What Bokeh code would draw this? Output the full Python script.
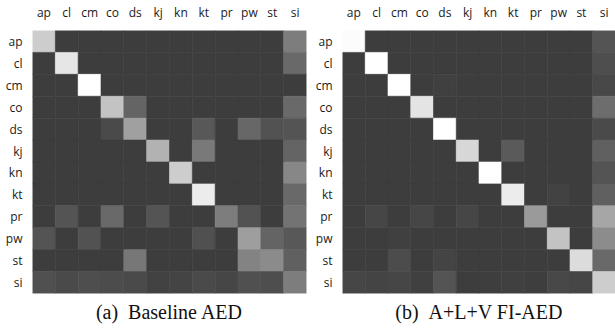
from bokeh.plotting import figure
from bokeh.layouts import row
from bokeh.models import ColumnDataSource, LinearColorMapper, Title, FactorRange, GlobalInlineStyleSheet
from bokeh.transform import transform
from bokeh.embed import file_html
from bokeh.resources import INLINE

classes = ["ap", "cl", "cm", "co", "ds", "kj", "kn", "kt", "pr", "pw", "st", "si"]

# confusion intensities (percent), rows = true class, cols = predicted
baseline_aed = [
    [74, 0, 0, 0, 0, 0, 0, 0, 0, 0, 0, 33],
    [0, 87, 0, 0, 0, 0, 0, 0, 0, 0, 0, 23],
    [0, 0, 100, 0, 0, 0, 0, 0, 0, 0, 0, 0],
    [0, 0, 0, 69, 20, 0, 0, 0, 0, 0, 0, 23],
    [0, 0, 0, 7, 51, 0, 0, 14, 0, 22, 11, 12],
    [0, 0, 0, 0, 0, 60, 0, 31, 0, 0, 0, 20],
    [0, 0, 0, 0, 0, 0, 74, 0, 0, 0, 0, 38],
    [0, 0, 0, 0, 0, 0, 0, 90, 0, 0, 0, 23],
    [0, 12, 0, 23, 0, 12, 0, 0, 33, 11, 0, 28],
    [12, 0, 11, 0, 0, 0, 0, 10, 0, 50, 20, 14],
    [0, 0, 0, 0, 30, 0, 0, 0, 0, 36, 40, 18],
    [10, 7, 9, 8, 7, 3, 4, 7, 5, 10, 9, 33],
]

alv_fi_aed = [
    [98, 0, 0, 0, 0, 0, 0, 0, 0, 0, 0, 12],
    [0, 100, 0, 0, 0, 0, 0, 0, 0, 0, 0, 9],
    [0, 0, 100, 0, 2, 0, 0, 0, 0, 0, 0, 6],
    [0, 0, 0, 86, 0, 0, 0, 0, 0, 0, 0, 25],
    [0, 0, 0, 0, 100, 0, 0, 0, 0, 0, 0, 7],
    [0, 0, 0, 0, 0, 79, 0, 15, 0, 0, 0, 18],
    [0, 0, 0, 0, 0, 0, 100, 0, 0, 0, 0, 12],
    [0, 0, 0, 0, 0, 0, 0, 90, 0, 3, 0, 18],
    [0, 5, 0, 5, 0, 5, 0, 0, 48, 0, 0, 54],
    [0, 0, 2, 0, 0, 0, 0, 0, 0, 69, 0, 41],
    [0, 0, 8, 0, 4, 0, 0, 0, 0, 0, 82, 23],
    [5, 4, 5, 2, 12, 0, 1, 2, 1, 6, 5, 74],
]

captions = ["(a)\u2002Baseline AED", "(b)\u2002A+L+V FI-AED"]

palette = ["#%02x%02x%02x" % (g, g, g) for g in range(61, 256)]
mapper = LinearColorMapper(palette=palette, low=0, high=100)

SANS = "Open Sans"
SERIF = "Liberation Serif"


def make(mat, caption, width, border_left, border_right):
    xs, ys, vs = [], [], []
    for i, r in enumerate(classes):
        for j, c in enumerate(classes):
            xs.append(c)
            ys.append(r)
            vs.append(mat[i][j])
    src = ColumnDataSource(dict(x=xs, y=ys, v=vs))
    p = figure(width=width, height=330,
               x_range=FactorRange(factors=classes),
               y_range=FactorRange(factors=list(reversed(classes))),
               x_axis_location="above",
               output_backend="svg", toolbar_location=None,
               min_border_left=border_left, min_border_right=border_right,
               min_border_top=20, min_border_bottom=37)
    p.rect(x="x", y="y", width=1, height=1, source=src,
           fill_color=transform("v", mapper),
           line_color=transform("v", mapper), line_width=0.6)
    p.grid.grid_line_color = None
    p.outline_line_color = None
    p.background_fill_color = "white"
    p.border_fill_color = "white"
    for ax in (p.xaxis[0], p.yaxis[0]):
        ax.axis_line_color = None
        ax.major_tick_line_color = None
        ax.minor_tick_line_color = None
        ax.major_label_text_font = SANS
        ax.major_label_text_font_size = "12px"
        ax.major_label_text_color = "#1a1a1a"
        ax.major_label_standoff = 4
    t = Title(text=caption, align="center", offset=-16,
              text_font=SERIF, text_font_size="20px",
              text_font_style="normal", text_color="#111111")
    p.add_layout(t, "below")
    return p


p1 = make(baseline_aed, captions[0], 310, 32, 4)
p2 = make(alv_fi_aed, captions[1], 305, 32, 0)

layout = row(p1, p2, spacing=0)
layout.stylesheets = [GlobalInlineStyleSheet(css="body{margin:0 !important;}")]

open("out.html", "w").write(file_html(layout, INLINE))
